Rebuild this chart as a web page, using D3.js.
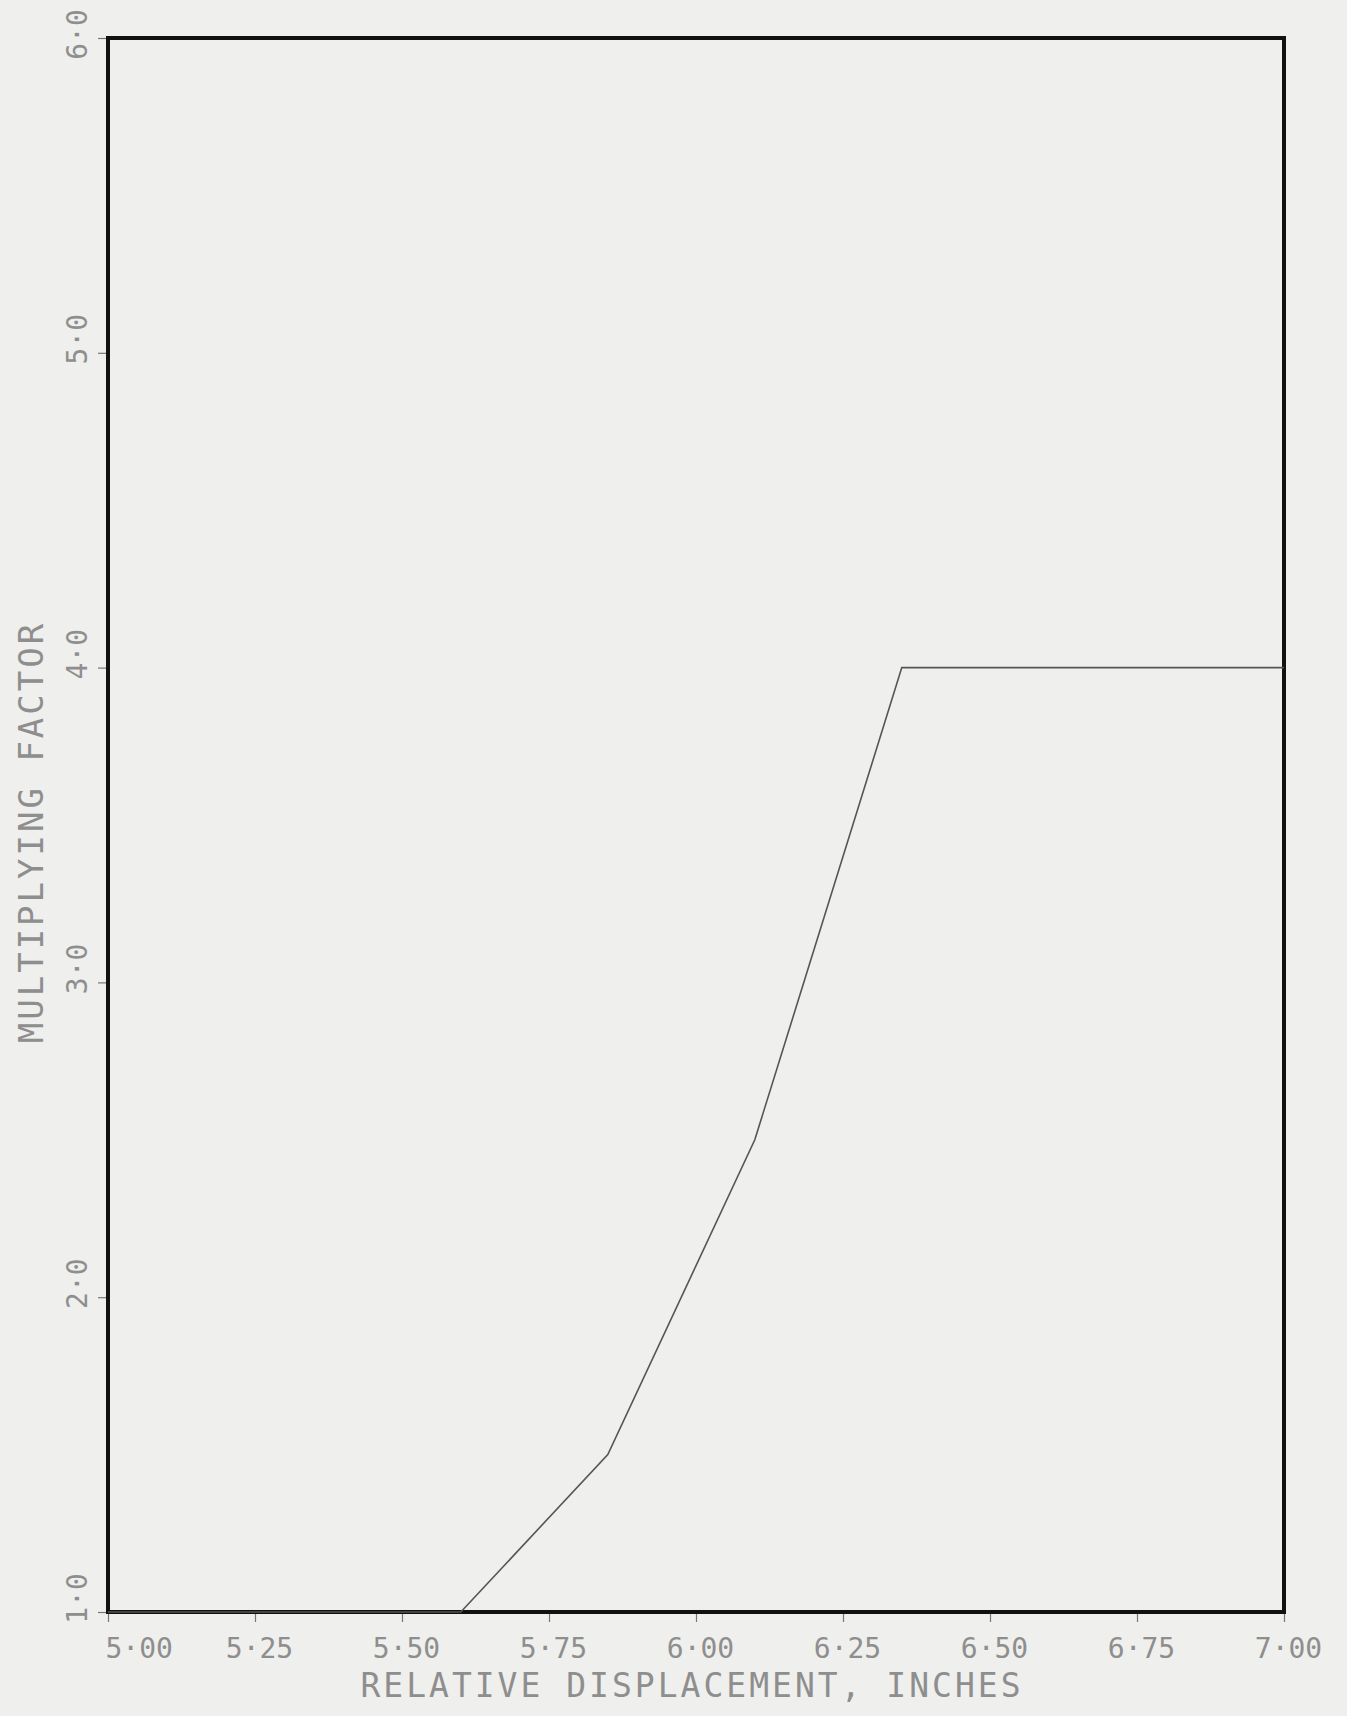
<!DOCTYPE html>
<html>
<head>
<meta charset="utf-8">
<script src="https://cdn.jsdelivr.net/npm/d3@7"></script>
<style>
  body { margin: 0; background: #efefed; }
  svg { display: block; }
</style>
</head>
<body>
<svg id="chart" width="1347" height="1716"></svg>
<script>
// curve values
let displacement = [5.00, 5.60, 5.85, 6.10, 6.35, 7.00];
let factor = [1.0, 1.0, 1.5, 2.5, 4.0, 4.0];

let xTicks = [5.00, 5.25, 5.50, 5.75, 6.00, 6.25, 6.50, 6.75, 7.00];
let yTicks = [1.0, 2.0, 3.0, 4.0, 5.0, 6.0];

let xTitle = "RELATIVE DISPLACEMENT, INCHES";
let yTitle = "MULTIPLYING FACTOR";

let margin = { top: 38, right: 63, bottom: 104, left: 108 };
let svg = d3.select("#chart");
let width = 1347 - margin.left - margin.right;
let height = 1716 - margin.top - margin.bottom;

let textColor = "#8e8e8e";
let fontFamily = "'DejaVu Sans Mono', monospace";

let g = svg.append("g")
    .attr("transform", "translate(" + margin.left + "," + margin.top + ")");

let xScale = d3.scaleLinear().domain([5, 7]).range([0, width]);
let yScale = d3.scaleLinear().domain([1, 6]).range([height, 0]);

// plotter style labels use a raised dot as decimal point
function dotFormat(spec) {
    let f = d3.format(spec);
    return function (d) { return f(d).replace(".", "\u00b7"); };
}

// x axis
let xAxis = g.append("g")
    .attr("transform", "translate(0," + height + ")")
    .call(d3.axisBottom(xScale).tickValues(xTicks).tickSize(10).tickFormat(dotFormat(".2f")));
xAxis.select(".domain").remove();
xAxis.selectAll("line").attr("stroke", "#777").attr("stroke-width", 1.2);
xAxis.selectAll("text")
    .attr("y", 46)
    .attr("dy", 0)
    .attr("x", 4)
    .attr("fill", textColor)
    .attr("font-family", fontFamily)
    .attr("font-size", "28px");
// first label sits to the right of its tick
xAxis.selectAll("text").filter(function (d, i) { return i === 0; })
    .attr("x", -3)
    .attr("text-anchor", "start");

// y axis
let yAxis = g.append("g")
    .call(d3.axisLeft(yScale).tickValues(yTicks).tickSize(10).tickFormat(dotFormat(".1f")));
yAxis.select(".domain").remove();
yAxis.selectAll("line").attr("stroke", "#777").attr("stroke-width", 1.2);
yAxis.selectAll("text")
    .attr("transform", "rotate(-90)")
    .attr("x", function (d) { return d === 6 ? 4 : 14; })
    .attr("y", -21)
    .attr("dy", 0)
    .attr("text-anchor", "middle")
    .attr("fill", textColor)
    .attr("font-family", fontFamily)
    .attr("font-size", "28px");

// frame
g.append("rect")
    .attr("x", 0)
    .attr("y", 0)
    .attr("width", width)
    .attr("height", height)
    .attr("fill", "none")
    .attr("stroke", "#111")
    .attr("stroke-width", 4);

// curve
let line = d3.line()
    .x(function (d, i) { return xScale(displacement[i]); })
    .y(function (d) { return yScale(d); });

g.append("path")
    .datum(factor)
    .attr("d", line)
    .attr("fill", "none")
    .attr("stroke", "#555")
    .attr("stroke-width", 1.6);

// axis titles
svg.append("text")
    .attr("x", 692)
    .attr("y", 1697)
    .attr("text-anchor", "middle")
    .attr("fill", textColor)
    .attr("font-family", fontFamily)
    .attr("font-size", "33px")
    .attr("letter-spacing", "3px")
    .text(xTitle);

svg.append("text")
    .attr("transform", "translate(43,832) rotate(-90)")
    .attr("text-anchor", "middle")
    .attr("fill", textColor)
    .attr("font-family", fontFamily)
    .attr("font-size", "34px")
    .attr("letter-spacing", "3px")
    .text(yTitle);
</script>
</body>
</html>
